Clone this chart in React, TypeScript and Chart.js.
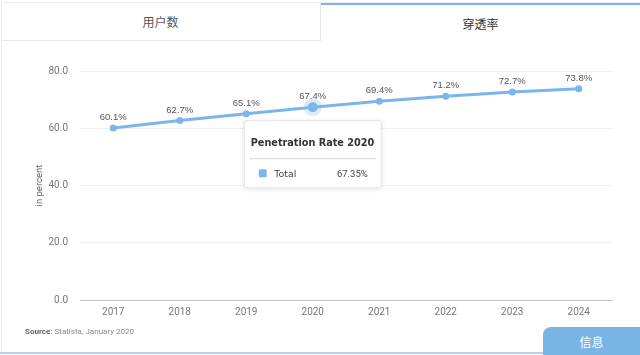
import React, { useEffect, useRef } from "react";
import { Chart, registerables } from "chart.js";

Chart.register(...registerables);

const years = ["2017", "2018", "2019", "2020", "2021", "2022", "2023", "2024"];
const penetration = [60.1, 62.7, 65.1, 67.35, 69.4, 71.2, 72.7, 73.8];
const pointLabels = ["60.1%", "62.7%", "65.1%", "67.4%", "69.4%", "71.2%", "72.7%", "73.8%"];
const yTicks = [0, 20, 40, 60, 80];
const tabs = ["用户数", "穿透率"];
const activeIndex = 3;
const tooltipTitle = "Penetration Rate 2020";
const tooltipSeries = "Total";
const tooltipValue = "67.35%";

const BLUE = "#7cb5ec";

const labelPlugin = {
  id: "pointLabels",
  beforeDatasetsDraw(chart: any) {
    const meta = chart.getDatasetMeta(0);
    const p = meta.data[activeIndex];
    if (!p) return;
    const ctx = chart.ctx;
    ctx.save();
    ctx.fillStyle = "rgba(124,181,236,0.25)";
    ctx.beginPath();
    ctx.arc(p.x, p.y, 9, 0, Math.PI * 2);
    ctx.fill();
    ctx.restore();
  },
  afterDatasetsDraw(chart: any) {
    const meta = chart.getDatasetMeta(0);
    const ctx = chart.ctx;
    ctx.save();
    ctx.font = "9.5px 'Liberation Sans', Arial, sans-serif";
    ctx.fillStyle = "#555";
    ctx.textAlign = "center";
    ctx.textBaseline = "middle";
    meta.data.forEach((pt: any, i: number) => {
      ctx.fillText(pointLabels[i], pt.x, pt.y - 10.5);
    });
    ctx.restore();
  },
  afterDraw(chart: any) {
    const meta = chart.getDatasetMeta(0);
    const p = meta.data[activeIndex];
    if (!p) return;
    const ctx = chart.ctx;
    const px = p.x;
    const top = p.y + 13;
    const left = px - 69;
    const w = 138;
    const h = 68;
    ctx.save();
    ctx.shadowColor = "rgba(0,0,0,0.12)";
    ctx.shadowBlur = 4;
    ctx.shadowOffsetY = 1;
    ctx.fillStyle = "#fff";
    ctx.beginPath();
    ctx.roundRect(left, top, w, h, 2);
    ctx.fill();
    ctx.shadowColor = "transparent";
    ctx.strokeStyle = "#e2e2e2";
    ctx.lineWidth = 1;
    ctx.beginPath();
    ctx.roundRect(left + 0.5, top + 0.5, w - 1, h - 1, 2);
    ctx.stroke();

    ctx.fillStyle = "#333";
    ctx.font = "bold 9.7px 'DejaVu Sans', Verdana, sans-serif";
    ctx.textAlign = "left";
    ctx.textBaseline = "middle";
    ctx.fillText(tooltipTitle, px - 62, top + 23);

    ctx.strokeStyle = "#d6d6d6";
    ctx.beginPath();
    ctx.moveTo(px - 63, top + 38.5);
    ctx.lineTo(px + 63, top + 38.5);
    ctx.stroke();

    ctx.fillStyle = BLUE;
    ctx.beginPath();
    ctx.roundRect(px - 54, top + 49, 8, 8, 1.5);
    ctx.fill();

    ctx.fillStyle = "#444";
    ctx.font = "9.5px 'DejaVu Sans', Verdana, sans-serif";
    ctx.fillText(tooltipSeries, px - 38.5, top + 54);
    ctx.textAlign = "right";
    ctx.font = "9.5px Roboto, sans-serif";
    ctx.fillText(tooltipValue, px + 55, top + 54);
    ctx.restore();
  },
};

function PenetrationChart() {
  const ref = useRef<HTMLCanvasElement | null>(null);
  useEffect(() => {
    if (!ref.current) return;
    const chart = new Chart(ref.current, {
      type: "line",
      data: {
        labels: years,
        datasets: [
          {
            data: penetration,
            borderColor: BLUE,
            backgroundColor: BLUE,
            borderWidth: 3,
            pointRadius: penetration.map((_, i) => (i === activeIndex ? 5 : 3.5)),
            pointBorderWidth: 0,
            pointBackgroundColor: BLUE,
            tension: 0,
            fill: false,
          },
        ],
      },
      options: {
        responsive: false,
        animation: false,
        events: [],
        layout: { padding: { left: 0, right: 28, top: 71, bottom: 30 } },
        plugins: {
          legend: { display: false },
          tooltip: { enabled: false },
        },
        scales: {
          x: {
            type: "category",
            offset: true,
            grid: { display: false, drawTicks: false },
            border: { display: true, color: "#c6c6c6", width: 1 },
            ticks: {
              color: "#777",
              font: { family: "Roboto, sans-serif", size: 10 },
              padding: 6,
              maxRotation: 0,
            },
            afterFit: (s: any) => {
              s.height = 25;
            },
          },
          y: {
            min: 0,
            max: 80,
            afterBuildTicks: (s: any) => {
              s.ticks = yTicks.map((v) => ({ value: v }));
            },
            grid: { color: "#f0f0f0", drawTicks: false, lineWidth: 1 },
            border: { display: false },
            ticks: {
              color: "#777",
              font: { family: "Roboto, sans-serif", size: 10 },
              padding: 12,
              callback: (v: any) => Number(v).toFixed(1),
            },
            title: {
              display: true,
              text: "in percent",
              color: "#666",
              font: { family: "Roboto, sans-serif", size: 9.5 },
              padding: { top: 34, bottom: 0 },
            },
            afterFit: (s: any) => {
              s.width = 80;
            },
          },
        },
      },
      plugins: [labelPlugin],
    } as any);
    return () => chart.destroy();
  }, []);
  return (
    <canvas
      ref={ref}
      width={640}
      height={355}
      style={{ position: "absolute", left: 0, top: 0, width: 640, height: 355 }}
    />
  );
}

export default function App() {
  return (
    <div
      style={{
        position: "fixed",
        left: 0,
        top: 0,
        width: 640,
        height: 355,
        background: "#fff",
        overflow: "hidden",
        fontFamily: "'Noto Sans CJK SC', sans-serif",
      }}
    >
      <div
        style={{
          position: "absolute",
          left: 1,
          top: 2,
          width: 639,
          height: 351,
          borderLeft: "1px solid #ececec",
          borderTop: "1px solid #ececec",
          boxSizing: "border-box",
        }}
      />
      <div
        style={{
          position: "absolute",
          left: 1,
          top: 2,
          width: 320,
          height: 39,
          borderRight: "1px solid #e8e8e8",
          borderBottom: "1px solid #e8e8e8",
          boxSizing: "border-box",
          display: "flex",
          alignItems: "center",
          justifyContent: "center",
          fontSize: 12,
          color: "#555",
        }}
      >
        {tabs[0]}
      </div>
      <div
        style={{
          position: "absolute",
          left: 321,
          top: 3,
          width: 319,
          height: 38,
          borderTop: "2px solid " + BLUE,
          boxSizing: "border-box",
          display: "flex",
          alignItems: "center",
          justifyContent: "center",
          fontSize: 12,
          color: "#333",
        }}
      >
        {tabs[1]}
      </div>
      <PenetrationChart />
      <div
        style={{
          position: "absolute",
          left: 25,
          top: 326,
          fontFamily: "Roboto, sans-serif",
          fontSize: 8,
          color: "#888",
          lineHeight: "11px",
        }}
      >
        <span style={{ fontWeight: "bold", color: "#666" }}>Source:</span> Statista, January 2020
      </div>
      <div
        style={{
          position: "absolute",
          left: 0,
          top: 352,
          width: 545,
          height: 2,
          background: "#b3d1ea",
        }}
      />
      <div
        style={{
          position: "absolute",
          left: 543,
          top: 327,
          width: 97,
          height: 28,
          background: "#7ab6e5",
          borderTopLeftRadius: 8,
          color: "#fff",
          fontSize: 12,
          display: "flex",
          alignItems: "center",
          justifyContent: "center",
        }}
      >
        信息
      </div>
    </div>
  );
}
